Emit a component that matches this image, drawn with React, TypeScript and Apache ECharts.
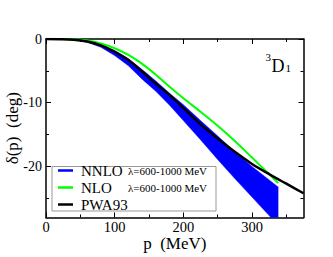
import { useEffect, useRef } from 'react';
import * as echarts from 'echarts';

// ---- data ----
const pwaP = [0, 20, 40, 60, 80, 100, 120, 140, 160, 180, 200, 225, 250, 275, 300, 325, 350, 375];
const pwaDelta = [0, -0.02, -0.1, -0.4, -1.0, -2.0, -3.3, -5.1, -7.0, -8.8, -10.8, -13.4, -15.6, -17.7, -19.6, -21.2, -22.7, -24.2];

const nloP = [0, 20, 40, 60, 80, 100, 120, 140, 160, 180, 200, 225, 250, 275, 300, 325, 338];
const nloDelta = [0, -0.01, -0.05, -0.25, -0.7, -1.45, -2.5, -3.9, -5.6, -7.5, -9.3, -11.4, -13.6, -16.0, -18.6, -21.2, -22.6];

const nnloP = [0, 20, 40, 60, 80, 100, 120, 140, 160, 180, 200, 225, 250, 275, 300, 325, 338];
const nnloUpper = [0, -0.02, -0.1, -0.35, -0.9, -1.8, -3.1, -4.8, -6.6, -8.5, -10.3, -12.8, -15.2, -17.7, -20.0, -22.1, -23.2];
const nnloLower = [0, -0.03, -0.15, -0.5, -1.3, -2.6, -4.2, -6.3, -8.2, -10.4, -12.8, -15.8, -18.9, -21.9, -24.8, -27.7, -29.2];

const xMajor = [0, 100, 200, 300];
const xMinor = [50, 150, 250, 350];
const yMajor = [0, -10, -20];
const yMinor = [-5, -15, -25];

const legendNames = ['NNLO', 'NLO', 'PWA93'];
const cutoffLabel = 'λ=600-1000 MeV';

const F = "'Liberation Serif', 'DejaVu Serif', serif";

export default function App() {
  const ref = useRef<HTMLDivElement>(null);
  useEffect(() => {
    const chart = echarts.init(ref.current!, null, { renderer: 'svg' });
    const X_MIN = 0, X_MAX = 375, Y_MIN = -28, Y_MAX = 0;
    const lineAxis = { show: true, onZero: false, lineStyle: { color: '#000', width: 1.5 } };
    const xAx = (pos: string, major: boolean, withLabel: boolean, extra: any = {}) => ({
      type: 'value', position: pos, min: X_MIN, max: X_MAX, gridIndex: 0,
      axisLine: major ? lineAxis : { show: false, onZero: false },
      axisTick: { show: true, inside: true, length: major ? 5 : 3, customValues: major ? xMajor : xMinor, lineStyle: { color: '#000', width: 1 } },
      axisLabel: withLabel ? { show: true, customValues: xMajor, fontSize: 14.5, lineHeight: 12, color: '#000', fontFamily: F, margin: 3 } : { show: false },
      splitLine: { show: false },
      ...extra,
    });
    const yAx = (pos: string, major: boolean, withLabel: boolean, extra: any = {}) => ({
      type: 'value', position: pos, min: Y_MIN, max: Y_MAX, gridIndex: 0,
      axisLine: major ? lineAxis : { show: false, onZero: false },
      axisTick: { show: true, inside: true, length: major ? 5 : 3, customValues: major ? yMajor : yMinor, lineStyle: { color: '#000', width: 1 } },
      axisLabel: withLabel ? { show: true, customValues: yMajor, fontSize: 14, color: '#000', fontFamily: F, margin: 4 } : { show: false },
      splitLine: { show: false },
      ...extra,
    });
    const option: any = {
      animation: false,
      backgroundColor: '#fff',
      grid: { left: 46, top: 39, right: 29.5, bottom: 39.5, containLabel: false, outerBoundsMode: 'none' },
      xAxis: [
        xAx('bottom', true, true, {
          name: 'p  (MeV)', nameLocation: 'middle', nameGap: 17.5, nameMoveOverlap: false,
          nameTextStyle: { fontSize: 17, lineHeight: 17, fontFamily: F, color: '#000' },
        }),
        xAx('bottom', false, false),
        xAx('top', true, false),
        xAx('top', false, false),
      ],
      yAxis: [
        yAx('left', true, true, {
          name: 'δ(p)  (deg)', nameLocation: 'middle', nameGap: 25.5, nameRotate: 90, nameMoveOverlap: false,
          nameTextStyle: { fontSize: 17, fontFamily: F, color: '#000' },
        }),
        yAx('left', false, false),
        yAx('right', true, false),
        yAx('right', false, false),
      ],
      legend: {
        data: legendNames.map((n) => ({ name: n })),
        orient: 'vertical', left: 58, top: 163, padding: 0, itemGap: 2,
        itemWidth: 15, itemHeight: 2.5, icon: 'rect', selectedMode: false,
        formatter: (name: string) => name === 'PWA93' ? `{n|${name}}` : `{n|${name}}{s|${cutoffLabel}}`,
        textStyle: {
          fontFamily: F, fontSize: 15, color: '#000', lineHeight: 14,
          rich: {
            n: { fontSize: 15, fontFamily: F, color: '#000', width: 47, padding: [0, 0, 0, 3] },
            s: { fontSize: 11, fontFamily: F, color: '#000' },
          },
        },
      },
      graphic: [
        { type: 'rect', z: 0, shape: { x: 52, y: 166.5, width: 164, height: 44.5 }, style: { fill: '#fff', stroke: '#999', lineWidth: 1 } },
        { type: 'text', z: 10, x: 271.5, y: 74.5, style: { text: 'D', fontSize: 18, fontFamily: F, fill: '#000', verticalAlign: 'bottom' } },
        { type: 'text', z: 10, x: 265.5, y: 62.5, style: { text: '3', fontSize: 11, fontFamily: F, fill: '#000', verticalAlign: 'bottom' } },
        { type: 'text', z: 10, x: 285.5, y: 73, style: { text: '1', fontSize: 11, fontFamily: F, fill: '#000', verticalAlign: 'bottom' } },
      ],
      series: [
        {
          name: 'NNLO', type: 'custom', xAxisIndex: 0, yAxisIndex: 0, z: 1,
          color: '#0000ff', itemStyle: { color: '#0000ff' },
          data: nnloP.map((p, i) => [p, nnloUpper[i], nnloLower[i]]),
          encode: { x: 0, y: [1, 2] },
          renderItem: (params: any, api: any) => {
            if (params.dataIndex !== 0) return null;
            const top = nnloP.map((p, i) => api.coord([p, nnloUpper[i]]));
            const bot = nnloP.map((p, i) => api.coord([p, nnloLower[i]])).reverse();
            const cs = params.coordSys;
            return {
              type: 'polygon',
              shape: { points: top.concat(bot) },
              style: { fill: '#0000ff', stroke: '#0000ff', lineWidth: 0.5 },
              clipPath: { type: 'rect', shape: { x: cs.x, y: cs.y, width: cs.width, height: cs.height } },
            };
          },
        },
        {
          name: 'NLO', type: 'line', xAxisIndex: 0, yAxisIndex: 0,
          data: nloP.map((p, i) => [p, nloDelta[i]]),
          symbol: 'none', smooth: 0.3, color: '#00ff00',
          lineStyle: { width: 2, color: '#00ff00' }, z: 2,
        },
        {
          name: 'PWA93', type: 'line', xAxisIndex: 0, yAxisIndex: 0,
          data: pwaP.map((p, i) => [p, pwaDelta[i]]),
          symbol: 'none', smooth: 0.3, color: '#000000',
          lineStyle: { width: 2.5, color: '#000000' }, z: 3,
        },
      ],
    };
    chart.setOption(option);
    return () => chart.dispose();
  }, []);
  return <div ref={ref} style={{ position: 'fixed', left: 0, top: 0, width: 333, height: 257 }} />;
}
